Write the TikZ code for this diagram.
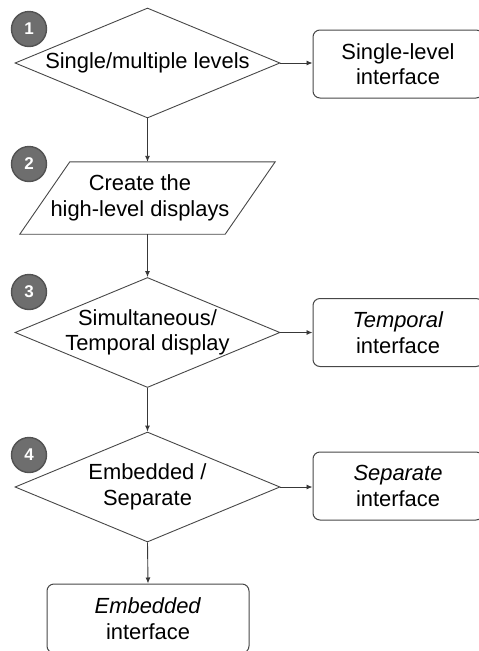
\documentclass[tikz,border=0pt]{standalone}
\usepackage{fontspec}
\setmainfont{Liberation Sans}
\usetikzlibrary{shapes.geometric,arrows.meta,positioning}
\begin{document}
\begin{tikzpicture}%
	[
	x={(1pt, 0pt)},
	y={(0pt, -1pt)},
	every node/.style={font=\fontsize{21.9}{25.5}\selectfont, align=center},
	outline/.style={draw=black!72, line width=0.9pt},
	decision/.style={outline, diamond, aspect=2.4, minimum width=265pt, minimum height=110pt, inner sep=-8pt},
	inputbox/.style={rectangle, minimum width=205pt, minimum height=72pt, inner sep=0pt},
	outcome/.style={outline, rectangle, rounded corners=7pt, line width=1pt, minimum width=170pt, minimum height=68pt, inner sep=2pt},
	stepmark/.style={circle, fill=black!57, draw=black!68, line width=1.4pt, minimum size=35pt, inner sep=0pt, text=white, font=\fontsize{17}{17}\selectfont\bfseries},
	flow/.style={draw=black!78, line width=0.9pt, -{Latex[length=6pt,width=5pt]}}]

\useasboundingbox (0,0) rectangle (479,651);
\clip (0,0) rectangle (479,651);

\node[decision] (levels) at (147.5,63) {Single/multiple levels};
\node[inputbox] (create) at (140,198) {Create the\\high-level displays};
\draw[outline] ([xshift=32.5pt]create.north west) -- ([xshift=32.5pt]create.north east)
	-- ([xshift=-17.5pt]create.south east) -- ([xshift=-17.5pt]create.south west) -- cycle;
\node[decision] (simul) at (147.5,332.5) {Simultaneous/\\Temporal display};
\node[decision] (embed) at (147.5,487) {Embedded /\\Separate};

\node[outcome] (single) at (398,64) {Single-level\\interface};
\node[outcome] (temporal) at (398,332.5) {\textit{Temporal}\\interface};
\node[outcome] (separate) at (398,486) {\textit{Separate}\\interface};
\node[outcome, minimum width=202pt, minimum height=69pt] (embedded) at (148,618.5) {\textit{Embedded}\\interface};

\node[stepmark] (one) at (29,29) {1};
\node[stepmark] (two) at (29,164) {2};
\node[stepmark] (three) at (29,292) {3};
\node[stepmark] (four) at (29,455) {4};

\draw[flow] (levels.east) -- (levels.east -| single.west);
\draw[flow] (simul.east) -- (simul.east -| temporal.west);
\draw[flow] (embed.east) -- (embed.east -| separate.west);
\draw[flow] (levels.south) -- (levels.south |- create.north);
\draw[flow] (levels.south |- create.south) -- (simul.north);
\draw[flow] (simul.south) -- (embed.north);
\draw[flow] (embed.south) -- (embedded.north);
\end{tikzpicture}
\end{document}
